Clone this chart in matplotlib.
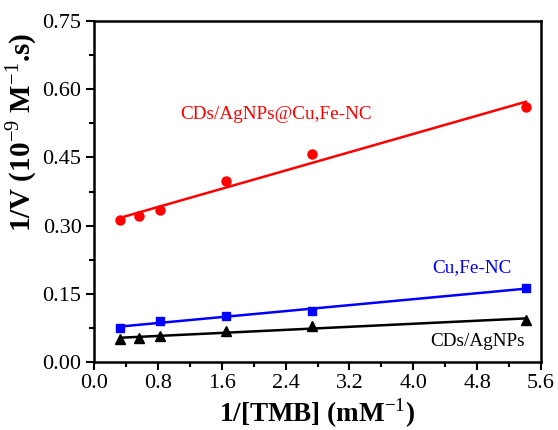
import numpy as np
import matplotlib
matplotlib.use("Agg")
import matplotlib.pyplot as plt
from matplotlib.ticker import MultipleLocator, FormatStrFormatter

plt.rcParams['font.family'] = ['Liberation Serif', 'DejaVu Serif']
plt.rcParams['mathtext.fontset'] = 'custom'
plt.rcParams['mathtext.rm'] = 'Liberation Serif'
plt.rcParams['mathtext.bf'] = 'Liberation Serif:bold'

# Lineweaver-Burk data: 1/[TMB] vs 1/V
x_red = [0.33, 0.56, 0.83, 1.65, 2.73, 5.41]
y_red = [0.312, 0.321, 0.334, 0.397, 0.457, 0.561]

x_blue = [0.33, 0.83, 1.65, 2.73, 5.41]
y_blue = [0.0755, 0.091, 0.101, 0.112, 0.163]

x_black = [0.33, 0.56, 0.83, 1.65, 2.73, 5.41]
y_black = [0.050, 0.052, 0.058, 0.068, 0.080, 0.092]

names = ["CDs/AgNPs@Cu,Fe-NC", "Cu,Fe-NC", "CDs/AgNPs"]

fig = plt.figure(figsize=(5.58, 4.30), dpi=100)
ax = fig.add_axes([94/558, 1 - 362/430, (541-94)/558, (362-21)/430])

series = [
    (x_red, y_red, '#ff0000', 'o', 6.5),
    (x_blue, y_blue, '#0000ff', 's', 6),
    (x_black, y_black, '#000000', '^', 7),
]
for xs, ys, c, m, ms in series:
    xs = np.asarray(xs); ys = np.asarray(ys)
    ax.plot(xs, ys, linestyle='none', marker=m, color=c, markersize=ms)
    k, b = np.polyfit(xs, ys, 1)
    xf = np.array([xs.min(), xs.max()])
    ax.plot(xf, k * xf + b, color=c, lw=1.8)

ax.text(0.192, 0.727, names[0], transform=ax.transAxes, color='#ff0000',
        fontsize=13.8, va='center')
ax.text(0.756, 0.276, names[1], transform=ax.transAxes, color='#0000ff',
        fontsize=13.8, va='center')
ax.text(0.752, 0.059, names[2], transform=ax.transAxes, color='#000000',
        fontsize=13.8, va='center')

ax.set_xlim(0, 5.6)
ax.set_ylim(0, 0.75)
ax.xaxis.set_major_locator(MultipleLocator(0.8))
ax.xaxis.set_minor_locator(MultipleLocator(0.4))
ax.yaxis.set_major_locator(MultipleLocator(0.15))
ax.yaxis.set_minor_locator(MultipleLocator(0.075))
ax.xaxis.set_major_formatter(FormatStrFormatter('%.1f'))
ax.yaxis.set_major_formatter(FormatStrFormatter('%.2f'))

for s in ax.spines.values():
    s.set_linewidth(1.8)
ax.tick_params(which='both', direction='out', top=False, right=False, width=1.5,
               labelsize=16, pad=3)
ax.tick_params(which='major', length=6)
ax.tick_params(which='minor', length=3.5)

ax.set_xlabel(r'1/[TMB] (mM$^{\mathrm{-1}}$)', fontsize=19.5, fontweight='bold')
ax.set_ylabel(r'1/V (10$^{\mathrm{-9}}$ M$^{\mathrm{-1}}$.s)', fontsize=21, fontweight='bold')
ax.xaxis.set_label_coords(0.5, -0.1)
ax.yaxis.set_label_coords(-0.122, 0.672)

fig.savefig('out.png', dpi=100)
